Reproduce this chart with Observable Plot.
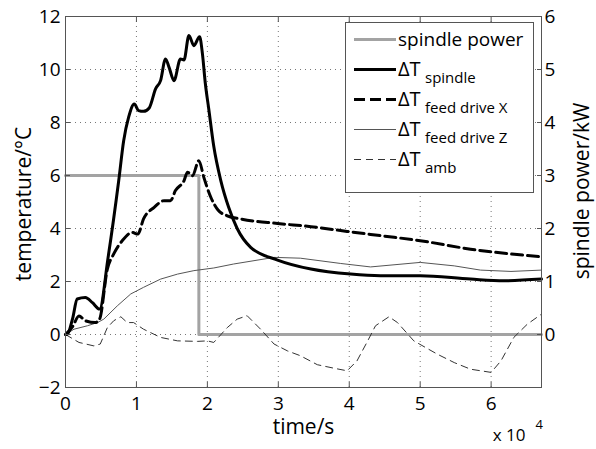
<!DOCTYPE html>
<html>
<head>
<meta charset="utf-8">
<script src="https://cdn.jsdelivr.net/npm/d3@7"></script>
<script src="https://cdn.jsdelivr.net/npm/@observablehq/plot@0.6"></script>
<style>
  html, body { margin: 0; padding: 0; background: #fff; }
  #chart svg { display: block; }
</style>
</head>
<body>
<div id="chart"></div>
<script>
// ---- data (time in s, temperatures in °C, power in kW) ----
const powerT = [0, 18800, 67100];
const powerKW = [3, 0, 0];

const spindleT = [0, 200, 1000, 1650, 2800, 3800, 4800, 6000, 7500, 8200, 8900, 9700, 10300, 11000, 11800, 12700, 13400, 14100, 14600, 15300, 16200, 16700, 17400, 18100, 18900, 19300, 19700, 20200, 20900, 21900, 23000, 24200, 26100, 29900, 34600, 40200, 44400, 50000, 57100, 61800, 67100];
const spindleDT = [0, 0, 0.6, 1.34, 1.40, 1.2, 0.96, 2.9, 5.8, 7.31, 8.2, 8.7, 8.45, 8.42, 8.55, 9.27, 9.58, 10.4, 10.08, 9.58, 10.4, 10.36, 11.28, 10.9, 11.24, 10.6, 9.5, 8.5, 7.1, 5.8, 4.8, 4.0, 3.29, 2.81, 2.47, 2.28, 2.22, 2.22, 2.09, 2.03, 2.09];

const feedXT = [0, 1000, 1900, 2800, 4200, 4800, 5900, 6800, 8000, 9400, 10200, 11000, 12500, 13900, 14800, 15500, 16700, 17200, 17900, 18800, 19500, 20500, 21500, 22800, 24700, 29900, 34600, 39700, 44400, 50000, 57100, 67100];
const feedXDT = [0, 0.3, 0.7, 0.52, 0.45, 0.58, 2.47, 3.04, 3.54, 3.85, 3.79, 4.36, 4.8, 5.05, 5.05, 5.43, 5.8, 6.12, 5.99, 6.56, 5.93, 5.17, 4.7, 4.48, 4.36, 4.19, 4.07, 3.89, 3.73, 3.54, 3.22, 2.93];

const feedZT = [0, 1200, 3100, 4500, 5400, 7300, 9200, 11000, 13400, 15800, 18100, 20900, 23700, 29400, 33100, 38800, 43000, 50000, 54800, 58500, 62800, 67100];
const feedZDT = [0, 0.2, 0.33, 0.45, 0.58, 1.08, 1.53, 1.78, 2.09, 2.28, 2.41, 2.51, 2.66, 2.91, 2.88, 2.68, 2.55, 2.72, 2.59, 2.43, 2.38, 2.43];

const ambT = [0, 1900, 4000, 4900, 5900, 6800, 7800, 8700, 9600, 11000, 13400, 15800, 18600, 20000, 20900, 22800, 24200, 25600, 27500, 29400, 31300, 33100, 35500, 37800, 39700, 41100, 42600, 43700, 45600, 46800, 49100, 52400, 54800, 57100, 60000, 61400, 63200, 65100, 67100];
const ambDT = [0, -0.3, -0.43, -0.36, 0.26, 0.52, 0.67, 0.45, 0.45, 0.2, -0.11, -0.24, -0.26, -0.24, -0.3, 0.26, 0.58, 0.71, 0.2, -0.36, -0.62, -0.8, -1.14, -1.27, -1.37, -0.99, -0.24, 0.33, 0.67, 0.45, -0.24, -0.74, -1.06, -1.31, -1.43, -0.99, -0.11, 0.39, 0.77];

const xTicks = [0, 10000, 20000, 30000, 40000, 50000, 60000];
const tempTicks = [-2, 0, 2, 4, 6, 8, 10, 12];
const powerTicks = [0, 1, 2, 3, 4, 5, 6];
const legendLabels = [
  ["spindle power", ""],
  ["\u0394T", "spindle"],
  ["\u0394T", "feed drive X"],
  ["\u0394T", "feed drive Z"],
  ["\u0394T", "amb"]
];

// ---- tables ----
const zipT = (ts, vs) => ts.map((t, i) => ({t, v: vs[i]}));
const power = zipT(powerT, powerKW);
const spindle = zipT(spindleT, spindleDT);
const feedX = zipT(feedXT, feedXDT);
const feedZ = zipT(feedZT, feedZDT);
const amb = zipT(ambT, ambDT);

const FONT = "'Open Sans', 'DejaVu Sans', sans-serif";
const TEMP_PER_KW = 2; // right axis: 0..6 kW aligned to 0..12 °C

const styles = [
  {stroke: "#a3a3a3", strokeWidth: 3, dash: null},
  {stroke: "#000", strokeWidth: 3, dash: null},
  {stroke: "#000", strokeWidth: 3, dash: "11,5"},
  {stroke: "#555", strokeWidth: 1, dash: null},
  {stroke: "#333", strokeWidth: 1, dash: "7,5"}
];

const chart = Plot.plot({
  width: 596,
  height: 449,
  marginLeft: 65,
  marginRight: 55,
  marginTop: 16,
  marginBottom: 62,
  style: {fontFamily: FONT, fontSize: "19px", color: "#000", background: "#fff"},
  x: {domain: [0, 67100]},
  y: {domain: [-2, 12]},
  marks: [
    Plot.gridX(xTicks.slice(1), {stroke: "#777", strokeOpacity: 1, strokeDasharray: "1,4"}),
    Plot.gridY(tempTicks.slice(1, -1), {stroke: "#777", strokeOpacity: 1, strokeDasharray: "1,4"}),
    Plot.line(power, {x: "t", y: d => d.v * TEMP_PER_KW, curve: "step-after", stroke: styles[0].stroke, strokeWidth: styles[0].strokeWidth}),
    Plot.line(amb, {x: "t", y: "v", stroke: styles[4].stroke, strokeWidth: styles[4].strokeWidth, strokeDasharray: styles[4].dash}),
    Plot.line(feedZ, {x: "t", y: "v", stroke: styles[3].stroke, strokeWidth: styles[3].strokeWidth}),
    Plot.line(feedX, {x: "t", y: "v", stroke: styles[2].stroke, strokeWidth: styles[2].strokeWidth, strokeDasharray: styles[2].dash, curve: "monotone-x"}),
    Plot.line(spindle, {x: "t", y: "v", stroke: styles[1].stroke, strokeWidth: styles[1].strokeWidth, curve: "monotone-x"}),
    Plot.frame({stroke: "#555", strokeWidth: 1}),
    Plot.axisX(xTicks, {anchor: "bottom", tickSize: -5, tickPadding: 14, tickFormat: d => d / 1e4, label: null, stroke: "#555"}),
    Plot.axisX(xTicks, {anchor: "top", tickSize: -5, tickFormat: () => null, label: null, stroke: "#555"}),
    Plot.axisY(tempTicks, {anchor: "left", tickSize: -5, tickPadding: 10, label: null, stroke: "#555"}),
    Plot.axisY(powerTicks.map(p => p * TEMP_PER_KW), {anchor: "right", tickSize: -5, tickPadding: 8, tickFormat: d => d / TEMP_PER_KW, label: null, stroke: "#555"}),
    Plot.text(["temperature/\u00B0C"], {frameAnchor: "left", rotate: -90, dx: -35, dy: 2, textAnchor: "middle", lineAnchor: "bottom", fontSize: 21}),
    Plot.text(["spindle power/kW"], {frameAnchor: "right", rotate: -90, dx: 47, dy: -11, textAnchor: "middle", lineAnchor: "bottom", fontSize: 21}),
    Plot.text(["time/s"], {frameAnchor: "bottom", dy: 46, lineAnchor: "bottom", fontSize: 21}),
    Plot.text(["x 10"], {frameAnchor: "bottom-right", dx: -16, dy: 53, lineAnchor: "bottom", textAnchor: "end", fontSize: 17}),
    Plot.text(["4"], {frameAnchor: "bottom-right", dx: -6, dy: 41, lineAnchor: "bottom", textAnchor: "start", fontSize: 13})
  ]
});

document.getElementById("chart").appendChild(chart);

// ---- legend ----
const svg = d3.select(chart);
const lg = svg.append("g").attr("class", "legend")
  .attr("font-family", FONT).attr("text-anchor", "start");
lg.append("rect")
  .attr("x", 345.5).attr("y", 22.5).attr("width", 188).attr("height", 170)
  .attr("fill", "#fff").attr("stroke", "#555").attr("stroke-width", 1);
legendLabels.forEach(([main, sub], i) => {
  const yLine = 39.5 + i * 30;
  const s = styles[i];
  lg.append("line")
    .attr("x1", 354).attr("x2", 396).attr("y1", yLine).attr("y2", yLine)
    .attr("stroke", s.stroke).attr("stroke-width", s.strokeWidth)
    .attr("stroke-dasharray", s.dash);
  lg.append("text")
    .attr("x", 398).attr("y", yLine + 6).attr("text-anchor", "start")
    .attr("font-size", sub ? 20 : 19).attr("fill", "#000").text(main);
  if (sub) {
    lg.append("text")
      .attr("x", 425).attr("y", yLine + 13).attr("text-anchor", "start")
      .attr("font-size", 15).attr("fill", "#000").text(sub);
  }
});
</script>
</body>
</html>
